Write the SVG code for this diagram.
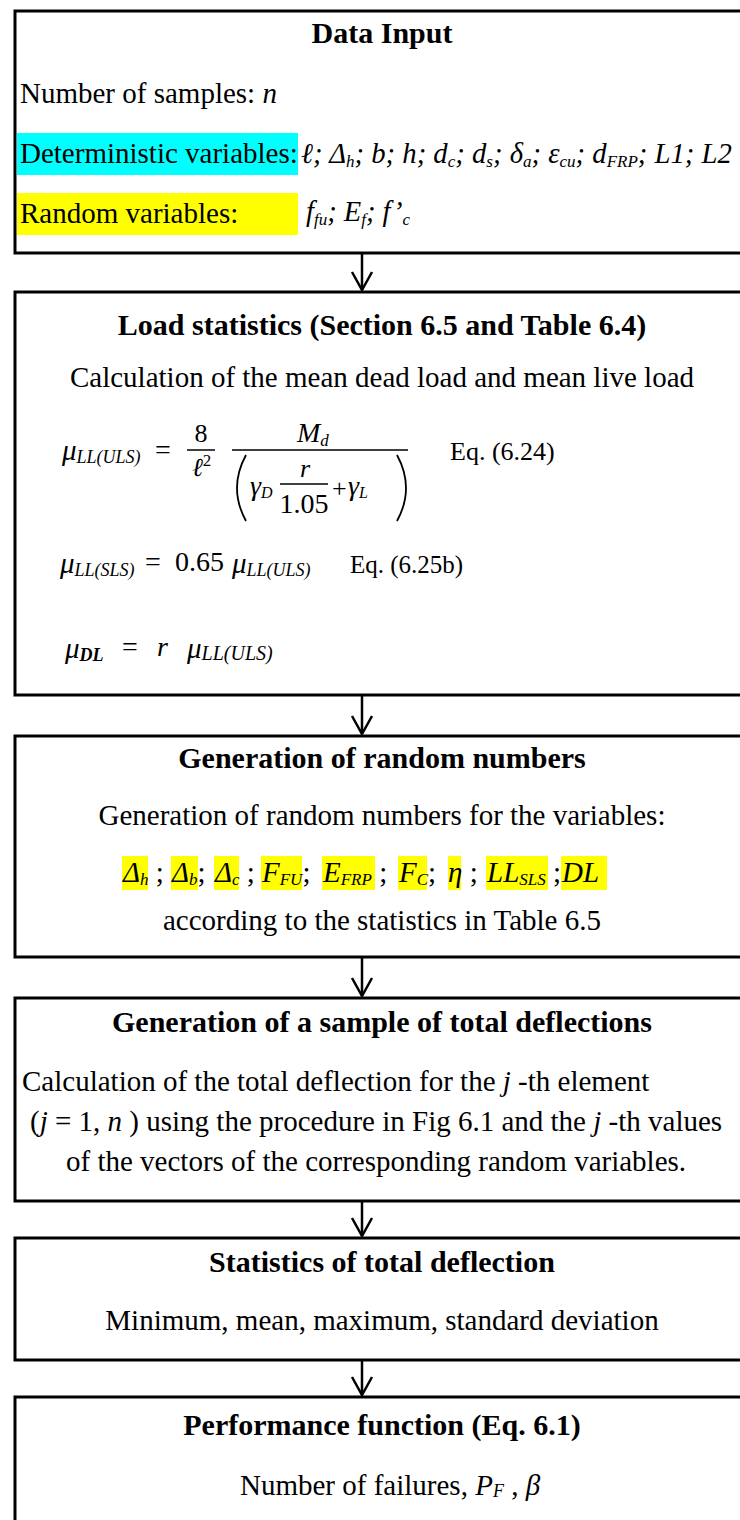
<svg xmlns="http://www.w3.org/2000/svg" width="740" height="1520" viewBox="0 0 740 1520">
<style>
text{font-family:"Liberation Serif","Times New Roman",serif;fill:#000}
.ttl{font-size:30px;font-weight:bold;text-anchor:middle}
.bd{font-size:29px}
.ctr{text-anchor:middle}
.it{font-style:italic}
.eq{font-size:26px}
.box{fill:#fff;stroke:#000;stroke-width:3}
.conn{stroke:#000;stroke-width:2.5;fill:none}
.bar{stroke:#000;stroke-width:1.5}
.hl{fill:#FFFF00}
</style>
<defs>
<marker id="ah" markerUnits="userSpaceOnUse" viewBox="-2 -12 22 24" markerWidth="22" markerHeight="24" refX="18" refY="0" orient="auto">
<path d="M0,-10 L18,0 L0,10" fill="none" stroke="#000" stroke-width="2.5"/>
</marker>
</defs>
<rect width="740" height="1520" fill="#fff"/>

<g id="connectors">
<line class="conn" x1="362" y1="254" x2="362" y2="290" marker-end="url(#ah)"/>
<line class="conn" x1="362" y1="696" x2="362" y2="734" marker-end="url(#ah)"/>
<line class="conn" x1="362" y1="958" x2="362" y2="996" marker-end="url(#ah)"/>
<line class="conn" x1="362" y1="1202" x2="362" y2="1236" marker-end="url(#ah)"/>
<line class="conn" x1="362" y1="1361" x2="362" y2="1395" marker-end="url(#ah)"/>
</g>

<g id="data-input">
<rect class="box" x="15" y="11" width="760" height="242"/>
<text class="ttl" x="382" y="43">Data Input</text>
<text class="bd" x="20" y="103">Number of samples: <tspan class="it">n</tspan></text>
<rect x="17" y="133" width="281" height="42" fill="#00FFFF"/>
<text class="bd" x="20" y="163">Deterministic variables:</text>
<text class="it" x="301" y="163" font-size="28.7">ℓ; Δ<tspan font-size="17" dy="4">h</tspan><tspan dy="-4">; b; h; d</tspan><tspan font-size="17" dy="4">c</tspan><tspan dy="-4">; d</tspan><tspan font-size="17" dy="4">s</tspan><tspan dy="-4">; δ</tspan><tspan font-size="17" dy="4">a</tspan><tspan dy="-4">; ε</tspan><tspan font-size="17" dy="4">cu</tspan><tspan dy="-4">; d</tspan><tspan font-size="17" dy="4">FRP</tspan><tspan dy="-4">; L1; L2</tspan></text>
<rect class="hl" x="17" y="193" width="281" height="42"/>
<text class="bd" x="20" y="223">Random variables:</text>
<text class="it" x="306" y="221" font-size="28.5">f<tspan font-size="17" dy="4">fu</tspan><tspan dy="-4">; E</tspan><tspan font-size="17" dy="4">f</tspan><tspan dy="-4">; f’</tspan><tspan font-size="17" dy="4">c</tspan></text>
</g>

<g id="load-statistics">
<rect class="box" x="15" y="292" width="760" height="403"/>
<text class="ttl" x="382" y="335">Load statistics (Section 6.5 and Table 6.4)</text>
<text class="bd ctr" x="382" y="387">Calculation of the mean dead load and mean live load</text>
<text class="it" x="62" y="460" font-size="29">μ<tspan font-size="18" dy="3">LL(ULS)</tspan></text>
<text x="155" y="459" font-size="28">=</text>
<text class="ctr" x="201" y="442" font-size="26">8</text>
<line class="bar" x1="187" y1="450" x2="215" y2="450"/>
<text class="it" x="192" y="476" font-size="26">ℓ<tspan font-style="normal" font-size="17" dy="-10">2</tspan></text>
<line class="bar" x1="232" y1="450" x2="408" y2="450"/>
<text class="it" x="297" y="442" font-size="28">M<tspan font-size="17" dy="4">d</tspan></text>
<path d="M246,455 Q228,488 246,521" fill="none" stroke="#000" stroke-width="1.8"/>
<path d="M397,455 Q415,488 397,521" fill="none" stroke="#000" stroke-width="1.8"/>
<text class="it" x="250" y="495" font-size="28">γ<tspan font-size="16" dy="3">D</tspan></text>
<text class="it ctr" x="305" y="477" font-size="26">r</text>
<line class="bar" x1="280" y1="484" x2="328" y2="484"/>
<text class="ctr" x="304" y="513" font-size="28">1.05</text>
<text x="332" y="497" font-size="26">+</text>
<text class="it" x="348" y="495" font-size="28">γ<tspan font-size="16" dy="3">L</tspan></text>
<text class="eq" x="450" y="460">Eq. (6.24)</text>

<text class="it" x="60" y="573" font-size="29">μ<tspan font-size="18" dy="3">LL(SLS)</tspan></text>
<text x="145" y="571" font-size="28">=</text>
<text x="175" y="571" font-size="28">0.65</text>
<text class="it" x="232" y="573" font-size="29">μ<tspan font-size="18" dy="3">LL(ULS)</tspan></text>
<text x="350" y="573" font-size="25">Eq. (6.25b)</text>

<text class="it" x="65" y="658" font-size="29">μ<tspan font-size="18" dy="3" font-weight="bold">DL</tspan></text>
<text x="122" y="656" font-size="28">=</text>
<text class="it" x="157" y="656" font-size="28">r</text>
<text class="it" x="187" y="658" font-size="29">μ<tspan font-size="20" dy="2">LL(ULS)</tspan></text>
</g>

<g id="random-numbers">
<rect class="box" x="15" y="736" width="760" height="221"/>
<text class="ttl" x="382" y="768">Generation of random numbers</text>
<text class="bd ctr" x="382" y="825">Generation of random numbers for the variables:</text>
<rect class="hl" x="122" y="856" width="26" height="34"/>
<rect class="hl" x="171" y="856" width="27" height="34"/>
<rect class="hl" x="214" y="856" width="25" height="34"/>
<rect class="hl" x="261" y="856" width="41" height="34"/>
<rect class="hl" x="322" y="856" width="53" height="34"/>
<rect class="hl" x="398" y="856" width="29" height="34"/>
<rect class="hl" x="448" y="856" width="13" height="34"/>
<rect class="hl" x="486" y="856" width="62" height="34"/>
<rect class="hl" x="561" y="856" width="46" height="34"/>
<text class="it" y="882" font-size="29"><tspan x="123">Δ</tspan><tspan font-size="17" dy="3">h</tspan><tspan font-style="normal" dy="-3"> ;</tspan><tspan x="172">Δ</tspan><tspan font-size="17" dy="3">b</tspan><tspan font-style="normal" dy="-3">;</tspan><tspan x="215">Δ</tspan><tspan font-size="17" dy="3">c</tspan><tspan font-style="normal" dy="-3"> ;</tspan><tspan x="262">F</tspan><tspan font-size="17" dy="3">FU</tspan><tspan font-style="normal" dy="-3">;</tspan><tspan x="323">E</tspan><tspan font-size="17" dy="3">FRP</tspan><tspan font-style="normal" dy="-3"> ;</tspan><tspan x="399">F</tspan><tspan font-size="17" dy="3">C</tspan><tspan font-style="normal" dy="-3">;</tspan><tspan x="448">η</tspan><tspan font-style="normal"> ;</tspan><tspan x="487">LL</tspan><tspan font-size="17" dy="3">SLS</tspan><tspan font-style="normal" dy="-3"> ;</tspan><tspan x="562">DL</tspan></text>
<text class="bd ctr" x="382" y="930">according to the statistics in Table 6.5</text>
</g>

<g id="sample-deflections">
<rect class="box" x="15" y="998" width="760" height="203"/>
<text class="ttl" x="382" y="1032">Generation of a sample of total deflections</text>
<text class="bd" x="22" y="1091">Calculation of the total deflection for the <tspan class="it">j</tspan> -th element</text>
<text class="bd" x="30" y="1131">(<tspan class="it">j</tspan> = 1, <tspan class="it">n</tspan> ) using the procedure in Fig 6.1 and the <tspan class="it">j</tspan> -th values</text>
<text class="bd" x="66" y="1171">of the vectors of the corresponding random variables.</text>
</g>

<g id="deflection-statistics">
<rect class="box" x="15" y="1238" width="760" height="122"/>
<text class="ttl" x="382" y="1272">Statistics of total deflection</text>
<text class="bd ctr" x="382" y="1330">Minimum, mean, maximum, standard deviation</text>
</g>

<g id="performance-function">
<rect class="box" x="15" y="1397" width="760" height="200"/>
<text class="ttl" x="382" y="1435">Performance function (Eq. 6.1)</text>
<text class="bd" x="240" y="1495">Number of failures, <tspan class="it">P</tspan><tspan class="it" font-size="18" dy="2">F</tspan><tspan dy="-2"> , </tspan><tspan class="it">β</tspan></text>
</g>
</svg>
